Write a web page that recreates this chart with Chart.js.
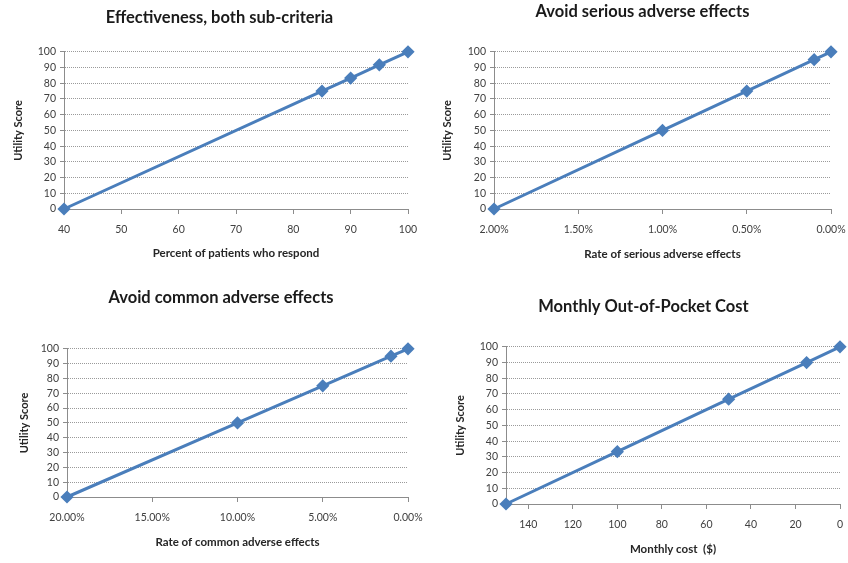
<!DOCTYPE html>
<html>
<head>
<meta charset="utf-8">
<script src="https://cdn.jsdelivr.net/npm/chart.js@4/dist/chart.umd.min.js"></script>
<style>
  body { margin: 0; background: #fff; }
  .panel { position: absolute; }
</style>
</head>
<body>
<div class="panel" style="left:0;top:0;width:424px;height:281px"><canvas id="effChart"></canvas></div>
<div class="panel" style="left:424px;top:0;width:424px;height:281px"><canvas id="seriousChart"></canvas></div>
<div class="panel" style="left:0;top:280px;width:424px;height:283px"><canvas id="commonChart"></canvas></div>
<div class="panel" style="left:424px;top:280px;width:424px;height:283px"><canvas id="costChart"></canvas></div>
<script>
// Data
const scoreTicks = [0, 10, 20, 30, 40, 50, 60, 70, 80, 90, 100];

const responsePct = [40, 85, 90, 95, 100];
const responseScore = [0, 75, 83.3, 91.7, 100];
const responseTicks = [40, 50, 60, 70, 80, 90, 100];

const seriousRate = [2.0, 1.0, 0.5, 0.1, 0.0];
const seriousScore = [0, 50, 75, 95, 100];
const seriousTicks = [2.0, 1.5, 1.0, 0.5, 0.0];

const commonRate = [20, 10, 5, 1, 0];
const commonScore = [0, 50, 75, 95, 100];
const commonTicks = [20, 15, 10, 5, 0];

const monthlyCost = [150, 100, 50, 15, 0];
const costScore = [0, 33.3, 66.7, 90, 100];
const costTicks = [140, 120, 100, 80, 60, 40, 20, 0];

Chart.defaults.font.family = 'Lato, "Open Sans", sans-serif';
Chart.defaults.color = '#404040';

const lineBlue = '#4A7EBB';
const axisGray = '#8c8c8c';

// Function to build one utility panel
function makePanel(id, opts) {
    const points = opts.xs.map((x, i) => ({ x: x, y: opts.ys[i] }));
    const ctx = document.getElementById(id).getContext('2d');
    new Chart(ctx, {
        type: 'line',
        data: {
            datasets: [{
                data: points,
                borderColor: lineBlue,
                backgroundColor: lineBlue,
                borderWidth: 3,
                pointStyle: 'rectRot',
                pointRadius: 4.5,
                pointHoverRadius: 4.5,
                tension: 0,
                clip: false,
            }],
        },
        options: {
            responsive: true,
            maintainAspectRatio: false,
            animation: false,
            events: [],
            // left padding also shifts the centred title to where it sits in the original
            layout: {
                padding: { left: opts.padLeft, top: 0, right: opts.padRight, bottom: opts.padBottom },
            },
            plugins: {
                legend: { display: false },
                tooltip: { enabled: false },
                title: {
                    display: true,
                    text: opts.title,
                    color: '#1a1a1a',
                    font: { size: 16.5, weight: 'bold' },
                    padding: { top: opts.titleTop, bottom: opts.titleBottom },
                },
            },
            scales: {
                x: {
                    type: 'linear',
                    min: opts.xMin,
                    max: opts.xMax,
                    reverse: opts.reverse,
                    afterBuildTicks: scale => {
                        scale.ticks = opts.xTicks.map(v => ({ value: v }));
                    },
                    afterFit: scale => {
                        scale.height = opts.xHeight;
                        scale.paddingLeft = 0;
                        scale.paddingRight = 0;
                    },
                    ticks: {
                        autoSkip: false,
                        maxRotation: 0,
                        padding: 9,
                        font: { size: 10.5 },
                        callback: opts.xFormat,
                    },
                    grid: {
                        drawOnChartArea: false,
                        drawTicks: true,
                        tickLength: 5,
                        tickColor: axisGray,
                    },
                    border: { display: true, color: axisGray, width: 1 },
                    title: {
                        display: true,
                        text: opts.xTitle,
                        color: '#262626',
                        font: { size: 11.5, weight: 'bold' },
                        padding: { top: 4, bottom: 4 },
                    },
                },
                y: {
                    min: 0,
                    max: 100,
                    afterBuildTicks: scale => {
                        scale.ticks = scoreTicks.map(v => ({ value: v }));
                    },
                    afterFit: scale => {
                        scale.width = opts.yWidth;
                    },
                    ticks: {
                        autoSkip: false,
                        padding: 4,
                        font: { size: 10.5 },
                    },
                    grid: {
                        color: '#9a9a9a',
                        lineWidth: 1,
                        drawTicks: true,
                        tickLength: 4,
                        tickColor: axisGray,
                    },
                    border: { display: true, color: axisGray, width: 1, dash: [1, 1] },
                    title: {
                        display: true,
                        text: 'Utility Score',
                        color: '#262626',
                        font: { size: 11, weight: 'bold' },
                        padding: { top: opts.yTitlePad, bottom: 4 },
                    },
                },
            },
        },
    });
}

const pctFormat = v => v.toFixed(2) + '%';

makePanel('effChart', {
    title: 'Effectiveness, both sub-criteria', xTitle: 'Percent of patients who respond',
    xs: responsePct, ys: responseScore, xTicks: responseTicks,
    xMin: 40, xMax: 100, reverse: false, xFormat: v => v,
    titleTop: 8, titleBottom: 24, padLeft: 31, padRight: 16, padBottom: 17,
    xHeight: 55, yWidth: 33, yTitlePad: -19.6,
});

makePanel('seriousChart', {
    title: 'Avoid serious adverse effects', xTitle: 'Rate of serious adverse effects',
    xs: seriousRate, ys: seriousScore, xTicks: seriousTicks,
    xMin: 0, xMax: 2, reverse: true, xFormat: pctFormat,
    titleTop: 2, titleBottom: 30, padLeft: 30, padRight: 17, padBottom: 16,
    xHeight: 56, yWidth: 40, yTitlePad: -13.6,
});

makePanel('commonChart', {
    title: 'Avoid common adverse effects', xTitle: 'Rate of common adverse effects',
    xs: commonRate, ys: commonScore, xTicks: commonTicks,
    xMin: 0, xMax: 20, reverse: true, xFormat: pctFormat,
    titleTop: 8, titleBottom: 41, padLeft: 34, padRight: 16, padBottom: 10,
    xHeight: 56, yWidth: 33, yTitlePad: -16.6,
});

makePanel('costChart', {
    title: 'Monthly Out-of-Pocket Cost', xTitle: 'Monthly cost  ($)',
    xs: monthlyCost, ys: costScore, xTicks: costTicks,
    xMin: 0, xMax: 150, reverse: true, xFormat: v => v,
    titleTop: 17, titleBottom: 30, padLeft: 23, padRight: 8, padBottom: 3,
    xHeight: 56, yWidth: 59, yTitlePad: 6.4,
});
</script>
</body>
</html>
